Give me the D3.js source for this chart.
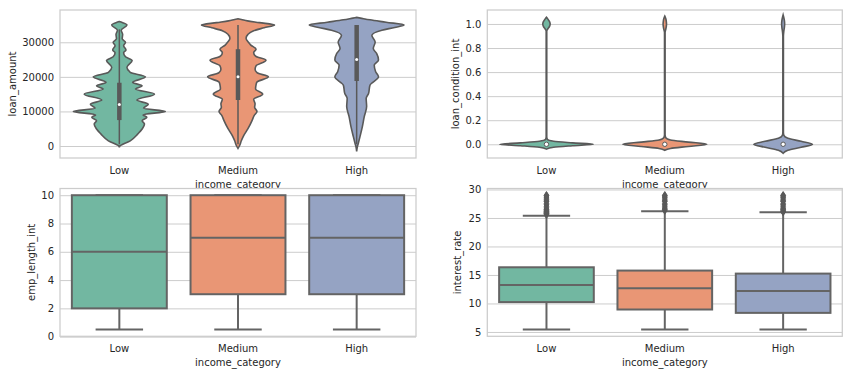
<!DOCTYPE html>
<html>
<head>
<meta charset="utf-8">
<script src="https://cdn.jsdelivr.net/npm/d3@7/dist/d3.min.js"></script>
<style>
  body { margin: 0; background: #fff; }
  text { font-family: "DejaVu Sans", sans-serif; font-size: 10px; fill: #262626; }
</style>
</head>
<body>
<svg id="chart" width="852" height="375"></svg>
<script>
// categories + colours (seaborn Set2, desaturated)
const categories = ["Low", "Medium", "High"];
const colors = ["#72b7a1", "#e99675", "#95a3c3"];

// loan_amount violin outlines: [value, relative density]
const loanLowKde = [[-400,0],[0,0.01],[1500,0.23],[3500,0.39],[4900,0.48],[6400,0.53],[7300,0.48],[8300,0.58],[9000,0.5],[10000,0.97],[10900,0.51],[12100,0.61],[13300,0.37],[15000,0.74],[16500,0.34],[17400,0.48],[18400,0.28],[20000,0.55],[21300,0.23],[22800,0.16],[24700,0.27],[25800,0.13],[27000,0.09],[27800,0.14],[29000,0.09],[30000,0.13],[31000,0.06],[32300,0.07],[33500,0.04],[35000,0.16],[35700,0.06],[36000,0]];
const loanMedKde = [[-700,0],[0,0.03],[1500,0.07],[3000,0.12],[5000,0.21],[7500,0.3],[8800,0.34],[10000,0.4],[11200,0.35],[12200,0.36],[13500,0.33],[15000,0.52],[16500,0.37],[17700,0.38],[18500,0.4],[20000,0.64],[21200,0.4],[22200,0.36],[23200,0.38],[24800,0.59],[26000,0.37],[27000,0.33],[28000,0.38],[29200,0.27],[30000,0.22],[31200,0.17],[32300,0.21],[33300,0.32],[34200,0.55],[35000,0.77],[35700,0.45],[36200,0.2],[36600,0.07],[36800,0]];
const loanHighKde = [[-1600,0],[-500,0.01],[800,0.035],[2700,0.07],[5600,0.12],[8500,0.16],[11400,0.21],[13800,0.2],[15200,0.25],[17600,0.28],[20000,0.46],[21500,0.4],[23400,0.37],[24900,0.46],[26800,0.42],[28200,0.35],[30100,0.39],[32000,0.32],[33500,0.53],[34300,0.8],[35000,1.0],[35800,0.62],[36500,0.28],[37000,0.08],[37200,0]];
const loanQ1 = [7500, 13300, 18800];
const loanMedian = [12000, 20000, 25000];
const loanQ3 = [18300, 28000, 35000];
const loanWhiskLo = [500, 500, 500];
const loanWhiskHi = [33750, 35000, 35000];
const loanTicks = [0, 10000, 20000, 30000];

// loan_condition_int violin outlines
const condLowKde = [[-0.04,0],[-0.025,0.15],[-0.012,0.55],[0,0.99],[0.012,0.55],[0.025,0.15],[0.04,0.02],[0.06,0.006],[0.94,0.006],[0.96,0.03],[0.98,0.065],[1,0.078],[1.02,0.065],[1.04,0.03],[1.055,0]];
const condMedKde = [[-0.05,0],[-0.035,0.12],[-0.018,0.5],[0,0.89],[0.018,0.5],[0.035,0.12],[0.055,0.02],[0.08,0.006],[0.93,0.006],[0.955,0.02],[0.98,0.032],[1,0.036],[1.02,0.032],[1.045,0.02],[1.065,0]];
const condHighKde = [[-0.075,0],[-0.05,0.1],[-0.025,0.38],[0,0.62],[0.025,0.38],[0.05,0.1],[0.075,0.015],[0.1,0.006],[0.9,0.006],[0.94,0.015],[0.97,0.026],[1,0.032],[1.03,0.026],[1.06,0.01],[1.075,0]];
const condMedian = [0, 0, 0];
const condTicks = [0, 0.2, 0.4, 0.6, 0.8, 1.0];

// emp_length_int boxes
const empQ1 = [2, 3, 3];
const empMedian = [6, 7, 7];
const empQ3 = [10, 10, 10];
const empLo = [0.5, 0.5, 0.5];
const empHi = [10, 10, 10];
const empTicks = [0, 2, 4, 6, 8, 10];

// interest_rate boxes
const rateQ1 = [10.24, 8.94, 8.35];
const rateMedian = [13.24, 12.65, 12.18];
const rateQ3 = [16.35, 15.77, 15.24];
const rateLo = [5.42, 5.42, 5.42];
const rateHi = [25.4, 26.17, 26.0];
const rateOutLow = [25.57,25.8,25.83,25.89,25.99,26.06,26.14,26.3,26.49,26.57,26.77,27.06,27.31,27.49,27.88,27.99,28.18,28.49,28.67,28.88,28.99];
const rateOutMed = [26.3,26.49,26.57,26.77,27.06,27.31,27.49,27.88,27.99,28.18,28.49,28.67,28.88,28.99];
const rateOutHigh = [26.06,26.14,26.3,26.49,26.57,26.77,27.06,27.31,27.49,27.88,27.99,28.18,28.49,28.67,28.88,28.99];
const rateTicks = [5, 10, 15, 20, 25, 30];

const svg = d3.select("#chart");
const gray = "#595959";

// draws background, grid, ticks, labels; returns scales
function panel(box, domain, ticks, fmt, ylabel, ylabelX) {
  const g = svg.append("g");
  const x = d3.scaleBand().domain(categories).range([box.x0, box.x1]);
  const y = d3.scaleLinear().domain(domain).range([box.y1, box.y0]);
  g.append("rect").attr("x", box.x0).attr("y", box.y0)
    .attr("width", box.x1 - box.x0).attr("height", box.y1 - box.y0).attr("fill", "#fff");
  const ya = g.append("g").attr("transform", "translate(" + box.x0 + ",0)")
    .call(d3.axisLeft(y).tickValues(ticks).tickFormat(fmt)
      .tickSize(-(box.x1 - box.x0)).tickPadding(6));
  ya.select(".domain").remove();
  ya.selectAll(".tick line").attr("stroke", "#cccccc").attr("stroke-width", 1);
  ya.selectAll("text").attr("fill", "#262626").style("font-size", "10px");
  const xa = g.append("g").attr("transform", "translate(0," + box.y1 + ")")
    .call(d3.axisBottom(x).tickSize(0).tickPadding(8.6));
  xa.select(".domain").remove();
  xa.selectAll("text").attr("fill", "#262626").style("font-size", "10px");
  g.append("text").attr("x", (box.x0 + box.x1) / 2).attr("y", box.y1 + 30)
    .attr("text-anchor", "middle").text("income_category");
  g.append("text").attr("transform", "translate(" + ylabelX + "," + (box.y0 + box.y1) / 2 + ") rotate(-90)")
    .attr("text-anchor", "middle").attr("dy", "0.35em").text(ylabel);
  const marks = svg.append("g");
  return {x, y, g, marks, box};
}

function frame(p) {
  svg.append("rect").attr("x", p.box.x0).attr("y", p.box.y0)
    .attr("width", p.box.x1 - p.box.x0).attr("height", p.box.y1 - p.box.y0)
    .attr("fill", "none").attr("stroke", "#cccccc").attr("stroke-width", 1.25);
}

function violins(p, kdes, q1, med, q3, lo, hi) {
  const w = d3.scaleLinear().domain([0, 1]).range([0, p.x.bandwidth() * 0.4]);
  kdes.forEach((kde, i) => {
    const cx = p.x(categories[i]) + p.x.bandwidth() / 2;
    const area = d3.area().curve(d3.curveMonotoneY)
      .y(d => p.y(d[0])).x0(d => cx - w(d[1])).x1(d => cx + w(d[1]));
    p.marks.append("path").attr("d", area(kde))
      .attr("fill", colors[i]).attr("stroke", gray).attr("stroke-width", 1.6);
    if (lo) {
      p.marks.append("line").attr("x1", cx).attr("x2", cx)
        .attr("y1", p.y(lo[i])).attr("y2", p.y(hi[i]))
        .attr("stroke", gray).attr("stroke-width", 1.5);
      p.marks.append("line").attr("x1", cx).attr("x2", cx)
        .attr("y1", p.y(q1[i])).attr("y2", p.y(q3[i]))
        .attr("stroke", gray).attr("stroke-width", 4.5);
    }
    p.marks.append("circle").attr("cx", cx).attr("cy", p.y(med[i])).attr("r", lo ? 1.5 : 2.2)
      .attr("fill", "#fff").attr("stroke", gray).attr("stroke-width", lo ? 0 : 1);
  });
}

function boxes(p, q1, med, q3, lo, hi, outliers) {
  const bw = p.x.bandwidth() * 0.8;
  const lc = "#646464";
  categories.forEach((c, i) => {
    const cx = p.x(c) + p.x.bandwidth() / 2;
    const m = p.marks;
    m.append("line").attr("x1", cx).attr("x2", cx).attr("y1", p.y(q3[i])).attr("y2", p.y(hi[i]))
      .attr("stroke", lc).attr("stroke-width", 2);
    m.append("line").attr("x1", cx).attr("x2", cx).attr("y1", p.y(q1[i])).attr("y2", p.y(lo[i]))
      .attr("stroke", lc).attr("stroke-width", 2);
    [lo[i], hi[i]].forEach(v => {
      m.append("line").attr("x1", cx - bw / 4).attr("x2", cx + bw / 4)
        .attr("y1", p.y(v)).attr("y2", p.y(v)).attr("stroke", lc).attr("stroke-width", 2);
    });
    m.append("rect").attr("x", cx - bw / 2).attr("y", p.y(q3[i]))
      .attr("width", bw).attr("height", p.y(q1[i]) - p.y(q3[i]))
      .attr("fill", colors[i]).attr("stroke", lc).attr("stroke-width", 2);
    m.append("line").attr("x1", cx - bw / 2).attr("x2", cx + bw / 2)
      .attr("y1", p.y(med[i])).attr("y2", p.y(med[i])).attr("stroke", lc).attr("stroke-width", 2);
    if (outliers) {
      m.selectAll(null).data(outliers[i]).enter().append("path")
        .attr("d", "M0,-3.8L2.4,0L0,3.8L-2.4,0Z")
        .attr("transform", d => "translate(" + cx + "," + p.y(d) + ")")
        .attr("fill", gray).attr("stroke", gray).attr("stroke-width", 0.8);
    }
  });
}

// top row
const pLoan = panel({x0: 60, x1: 416, y0: 10, y1: 158}, [-3470, 39340], loanTicks, d3.format("d"), "loan_amount", 12.5);
violins(pLoan, [loanLowKde, loanMedKde, loanHighKde], loanQ1, loanMedian, loanQ3, loanWhiskLo, loanWhiskHi);
frame(pLoan);

const pCond = panel({x0: 487.3, x1: 842.3, y0: 10, y1: 158}, [-0.114, 1.116], condTicks, d3.format(".1f"), "loan_condition_int", 455.5);
violins(pCond, [condLowKde, condMedKde, condHighKde], null, condMedian, null, null, null);
frame(pCond);

// bottom row (its background hides the lower part of the top x labels)
const pEmp = panel({x0: 60, x1: 416, y0: 188.5, y1: 336.3}, [0.025, 10.475], empTicks, d3.format("d"), "emp_length_int", 31.5);
boxes(pEmp, empQ1, empMedian, empQ3, empLo, empHi, null);
frame(pEmp);

const pRate = panel({x0: 487.3, x1: 842.3, y0: 188.5, y1: 336.3}, [4.24, 30.17], rateTicks, d3.format("d"), "interest_rate", 457.5);
boxes(pRate, rateQ1, rateMedian, rateQ3, rateLo, rateHi, [rateOutLow, rateOutMed, rateOutHigh]);
frame(pRate);
</script>
</body>
</html>
